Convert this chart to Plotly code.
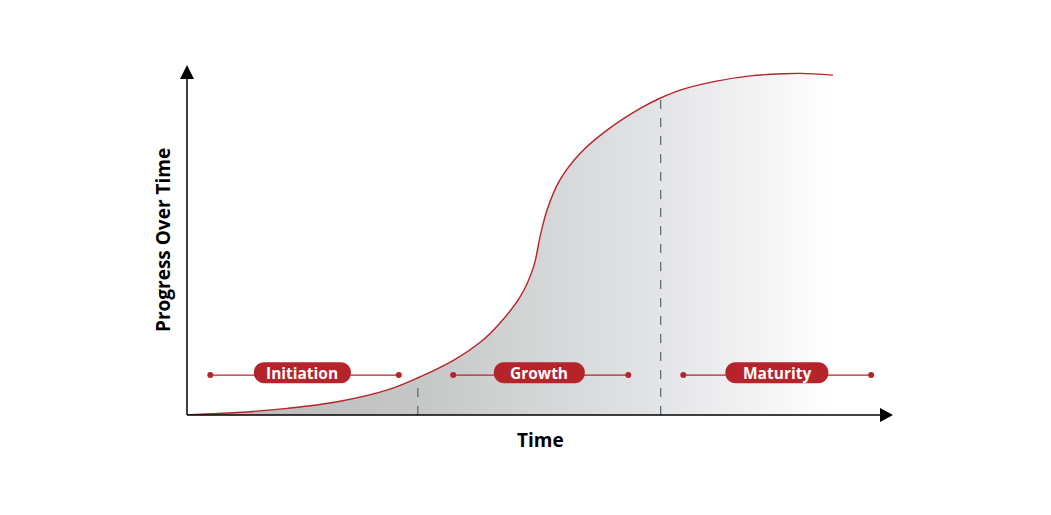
import plotly.graph_objects as go
import numpy as np

# S-curve (time vs progress, both 0-100)
curve_time = [0, 2.8, 7.1, 14.2, 21.3, 28.3, 33.0, 37.8, 41.8, 44.3, 47.2,
              49.1, 50.0, 51.0, 52.8, 55.7, 59.5, 64.2, 67.0, 70.3, 75.0,
              79.8, 84.5, 86.9, 91.5]
curve_progress = [0, 0.3, 0.7, 1.9, 3.8, 7.1, 10.9, 15.7, 21.2, 26.2, 33.8,
                  42.4, 50.9, 58.6, 67.1, 74.8, 81.4, 87.6, 90.5, 93.1, 95.4,
                  96.9, 97.5, 97.6, 97.1]

# phases
phase_names = ['Initiation', 'Growth', 'Maturity']
phase_bounds = [0, 32.7, 67.1, 100]
phase_line_start = [3.3, 37.7, 70.3]
phase_line_end = [30.0, 62.5, 96.9]
phase_label_y = 11.4

RED = '#b5242a'
DASH = '#3d4a5c'
FONT = 'Open Sans'
PILL_W = [97, 91, 103]   # pill widths in px
PILL_H = 21

# plot area in pixels (page has an 8px body margin)
PW, PH = 706, 350


def pill_path(w, h, r):
    """rounded rectangle centred on 0,0 (pixel units), cubic corners"""
    c = r * 0.552
    return ('M %f,%f L %f,%f C %f,%f %f,%f %f,%f L %f,%f C %f,%f %f,%f %f,%f '
            'L %f,%f C %f,%f %f,%f %f,%f L %f,%f C %f,%f %f,%f %f,%f Z') % (
        -w + r, -h, w - r, -h,
        w - r + c, -h, w, -h + r - c, w, -h + r,
        w, h - r,
        w, h - r + c, w - r + c, h, w - r, h,
        -w + r, h,
        -w + r - c, h, -w, h - r + c, -w, h - r,
        -w, -h + r,
        -w, -h + r - c, -w + r - c, -h, -w + r, -h)


fig = go.Figure()

fig.add_trace(go.Scatter(
    x=curve_time, y=curve_progress,
    mode='lines', line=dict(color=RED, width=1.4, shape='spline', smoothing=1.0),
    fill='tozeroy',
    fillgradient=dict(type='horizontal',
                      colorscale=[[0, '#b8b8b8'], [0.35, '#c5c6c6'],
                                  [0.72, '#e2e3e5'], [1, '#ffffff']]),
    hoverinfo='skip', showlegend=False,
))

# dashed phase boundaries, up to the curve
for b in phase_bounds[1:3]:
    top = float(np.interp(b, curve_time, curve_progress))
    fig.add_shape(type='line', x0=b, x1=b, y0=0, y1=top,
                  line=dict(color=DASH, width=1, dash='dash'), layer='above')

# phase labels: line with dots, pill in the middle
for k, name in enumerate(phase_names):
    fig.add_trace(go.Scatter(
        x=[phase_line_start[k], phase_line_end[k]],
        y=[phase_label_y, phase_label_y],
        mode='lines+markers', line=dict(color=RED, width=1.3),
        marker=dict(color=RED, size=6), hoverinfo='skip', showlegend=False,
    ))
    cx = (phase_bounds[k] + phase_bounds[k + 1]) / 2
    fig.add_shape(type='path', xsizemode='pixel', ysizemode='pixel',
                  xanchor=cx, yanchor=phase_label_y + 0.7,
                  path=pill_path(PILL_W[k] / 2, PILL_H / 2, 10),
                  fillcolor=RED, line=dict(width=0), layer='above')
    fig.add_annotation(x=cx, y=phase_label_y + 0.7, text='<b>%s</b>' % name,
                       showarrow=False,
                       font=dict(family=FONT, size=15.5, color='white'))

# axes with arrowheads (paper refs so nothing is clipped)
fig.add_shape(type='line', xref='paper', yref='paper', x0=0, x1=1 - 8 / PW,
              y0=0, y1=0, line=dict(color='black', width=1.5), layer='above')
fig.add_shape(type='line', xref='paper', yref='paper', x0=0, x1=0,
              y0=0, y1=1 - 8 / PH, line=dict(color='black', width=1.5), layer='above')
ax_path = 'M 1,0 L %f,%f L %f,%f Z' % (1 - 13 / PW, 7 / PH, 1 - 13 / PW, -7 / PH)
ay_path = 'M 0,1 L %f,%f L %f,%f Z' % (-7 / PW, 1 - 14 / PH, 7 / PW, 1 - 14 / PH)
for p in (ax_path, ay_path):
    fig.add_shape(type='path', xref='paper', yref='paper', path=p,
                  fillcolor='black', line=dict(width=0), layer='above')

fig.add_annotation(x=0.5, y=0, xref='paper', yref='paper', text='<b>Time</b>',
                   showarrow=False, yanchor='middle', yshift=-25,
                   font=dict(family=FONT, size=19, color='black'))
fig.add_annotation(x=0, y=0.5, xref='paper', yref='paper',
                   text='<b>Progress Over Time</b>', showarrow=False,
                   textangle=-90, xanchor='center', xshift=-24,
                   font=dict(family=FONT, size=19, color='black'))

fig.update_layout(
    width=1051, height=515,
    margin=dict(l=179, r=1051 - 179 - PW, t=57, b=515 - 57 - PH),
    paper_bgcolor='white', plot_bgcolor='white',
    xaxis=dict(range=[0, 100], visible=False, fixedrange=True),
    yaxis=dict(range=[0, 100], visible=False, fixedrange=True),
    showlegend=False,
)

fig.write_html("out.html")
